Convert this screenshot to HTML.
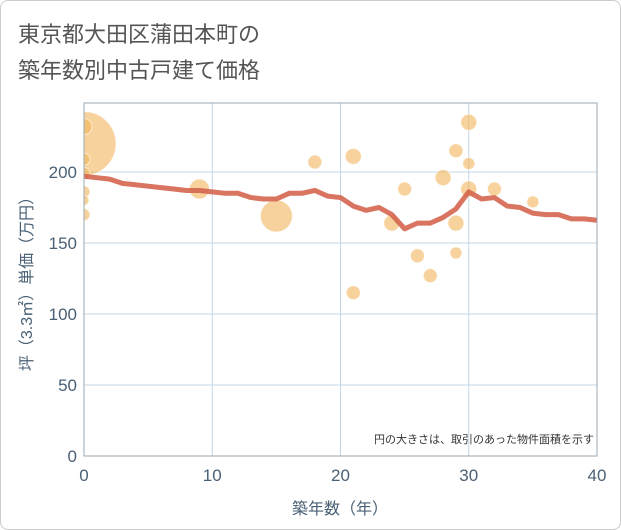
<!DOCTYPE html>
<html><head><meta charset="utf-8"><style>
body{margin:0;background:#fff;font-family:"Liberation Sans","Noto Sans CJK JP",sans-serif;}
.wrap{position:relative;width:619px;height:528px;border:1px solid #ccc;border-radius:8px;overflow:hidden;}
</style></head><body>
<div class="wrap">
<svg id="c" width="621" height="530" style="position:absolute;left:-1px;top:-1px">
<text x="18" y="42" font-size="22" fill="#555">東京都大田区蒲田本町の</text>
<text x="18" y="78" font-size="22" fill="#555">築年数別中古戸建て価格</text>
<defs><clipPath id="pc"><rect x="84" y="103" width="513" height="353"/></clipPath></defs>
<g id="grid"></g><g id="bub" clip-path="url(#pc)"></g><g id="ln"></g><g id="ax"></g>
<text x="594" y="443" font-size="11" fill="#333" text-anchor="end">円の大きさは、取引のあった物件面積を示す</text>
<text x="340" y="514" font-size="16" fill="#4a6075" text-anchor="middle">築年数（年）</text>
<text transform="translate(32,280) rotate(-90)" font-size="16" fill="#4a6075" text-anchor="middle">坪（3.3㎡）単価（万円）</text>
</svg></div>
<script>
const xTicks=[0,10,20,30,40];
const yTicks=[0,50,100,150,200];
const lineX=[0,1,2,3,4,5,6,7,8,9,10,11,12,13,14,15,16,17,18,19,20,21,22,23,24,25,26,27,28,29,30,31,32,33,34,35,36,37,38,39,40];
const lineY=[197,196,195,192,191,190,189,188,187,187,186,185,185,182,181,181,185,185,187,183,182,176,173,175,170,160,164,164,168,174,186,181,182,176,175,171,170,170,167,167,166];
const bubX=[0,0,0,0,0,0,0,9,15,18,21,21,24,25,26,27,28,29,29,29,30,30,30,32,35];
const bubY=[220,232,209,199,186,180,170,188,169,207,211,115,164,188,141,127,196,215,164,143,235,206,188,188,179];
const bubR=[32,8,6,6,6,5,6,10,16,7,8,7,8,7,7,7,8,7,8,6,8,6,8,7,6];
const X=v=>84+v*(513/40), Y=v=>456-v*1.42;
const NS="http://www.w3.org/2000/svg";
function mk(t,a,p){const e=document.createElementNS(NS,t);for(const k in a)e.setAttribute(k,a[k]);p.appendChild(e);return e;}
const g=document.getElementById('grid'),ax=document.getElementById('ax');
xTicks.forEach(t=>{const l=mk('line',{x1:X(t),x2:X(t),y1:103,y2:456,stroke:'#c5d5e5'},g);

const s=mk('text',{x:X(t),y:481,'font-size':17,fill:'#4a6075','text-anchor':'middle'},ax);s.textContent=t;
});
yTicks.forEach(t=>{const l=mk('line',{x1:84,x2:597,y1:Y(t),y2:Y(t),stroke:'#c5d5e5'},g);

const s=mk('text',{x:77,y:Y(t)+6,'font-size':17,fill:'#4a6075','text-anchor':'end'},ax);s.textContent=t;
});
const fr=mk('rect',{x:84,y:103,width:513,height:353,fill:'none',stroke:'#99a8b5'},ax);

const b=document.getElementById('bub');
bubX.forEach((x,i)=>{const c=mk('circle',{cx:X(x),cy:Y(bubY[i]),r:bubR[i],fill:'rgba(242,180,90,0.6)',stroke:'rgba(255,255,255,0.6)','stroke-width':1},b);
});
const p=mk('polyline',{points:lineX.map((x,i)=>X(x)+','+Y(lineY[i])).join(' '),fill:'none',stroke:'#d4654f','stroke-opacity':0.9,'stroke-width':5,'stroke-linejoin':'round'},document.getElementById('ln'));

</script></body></html>
